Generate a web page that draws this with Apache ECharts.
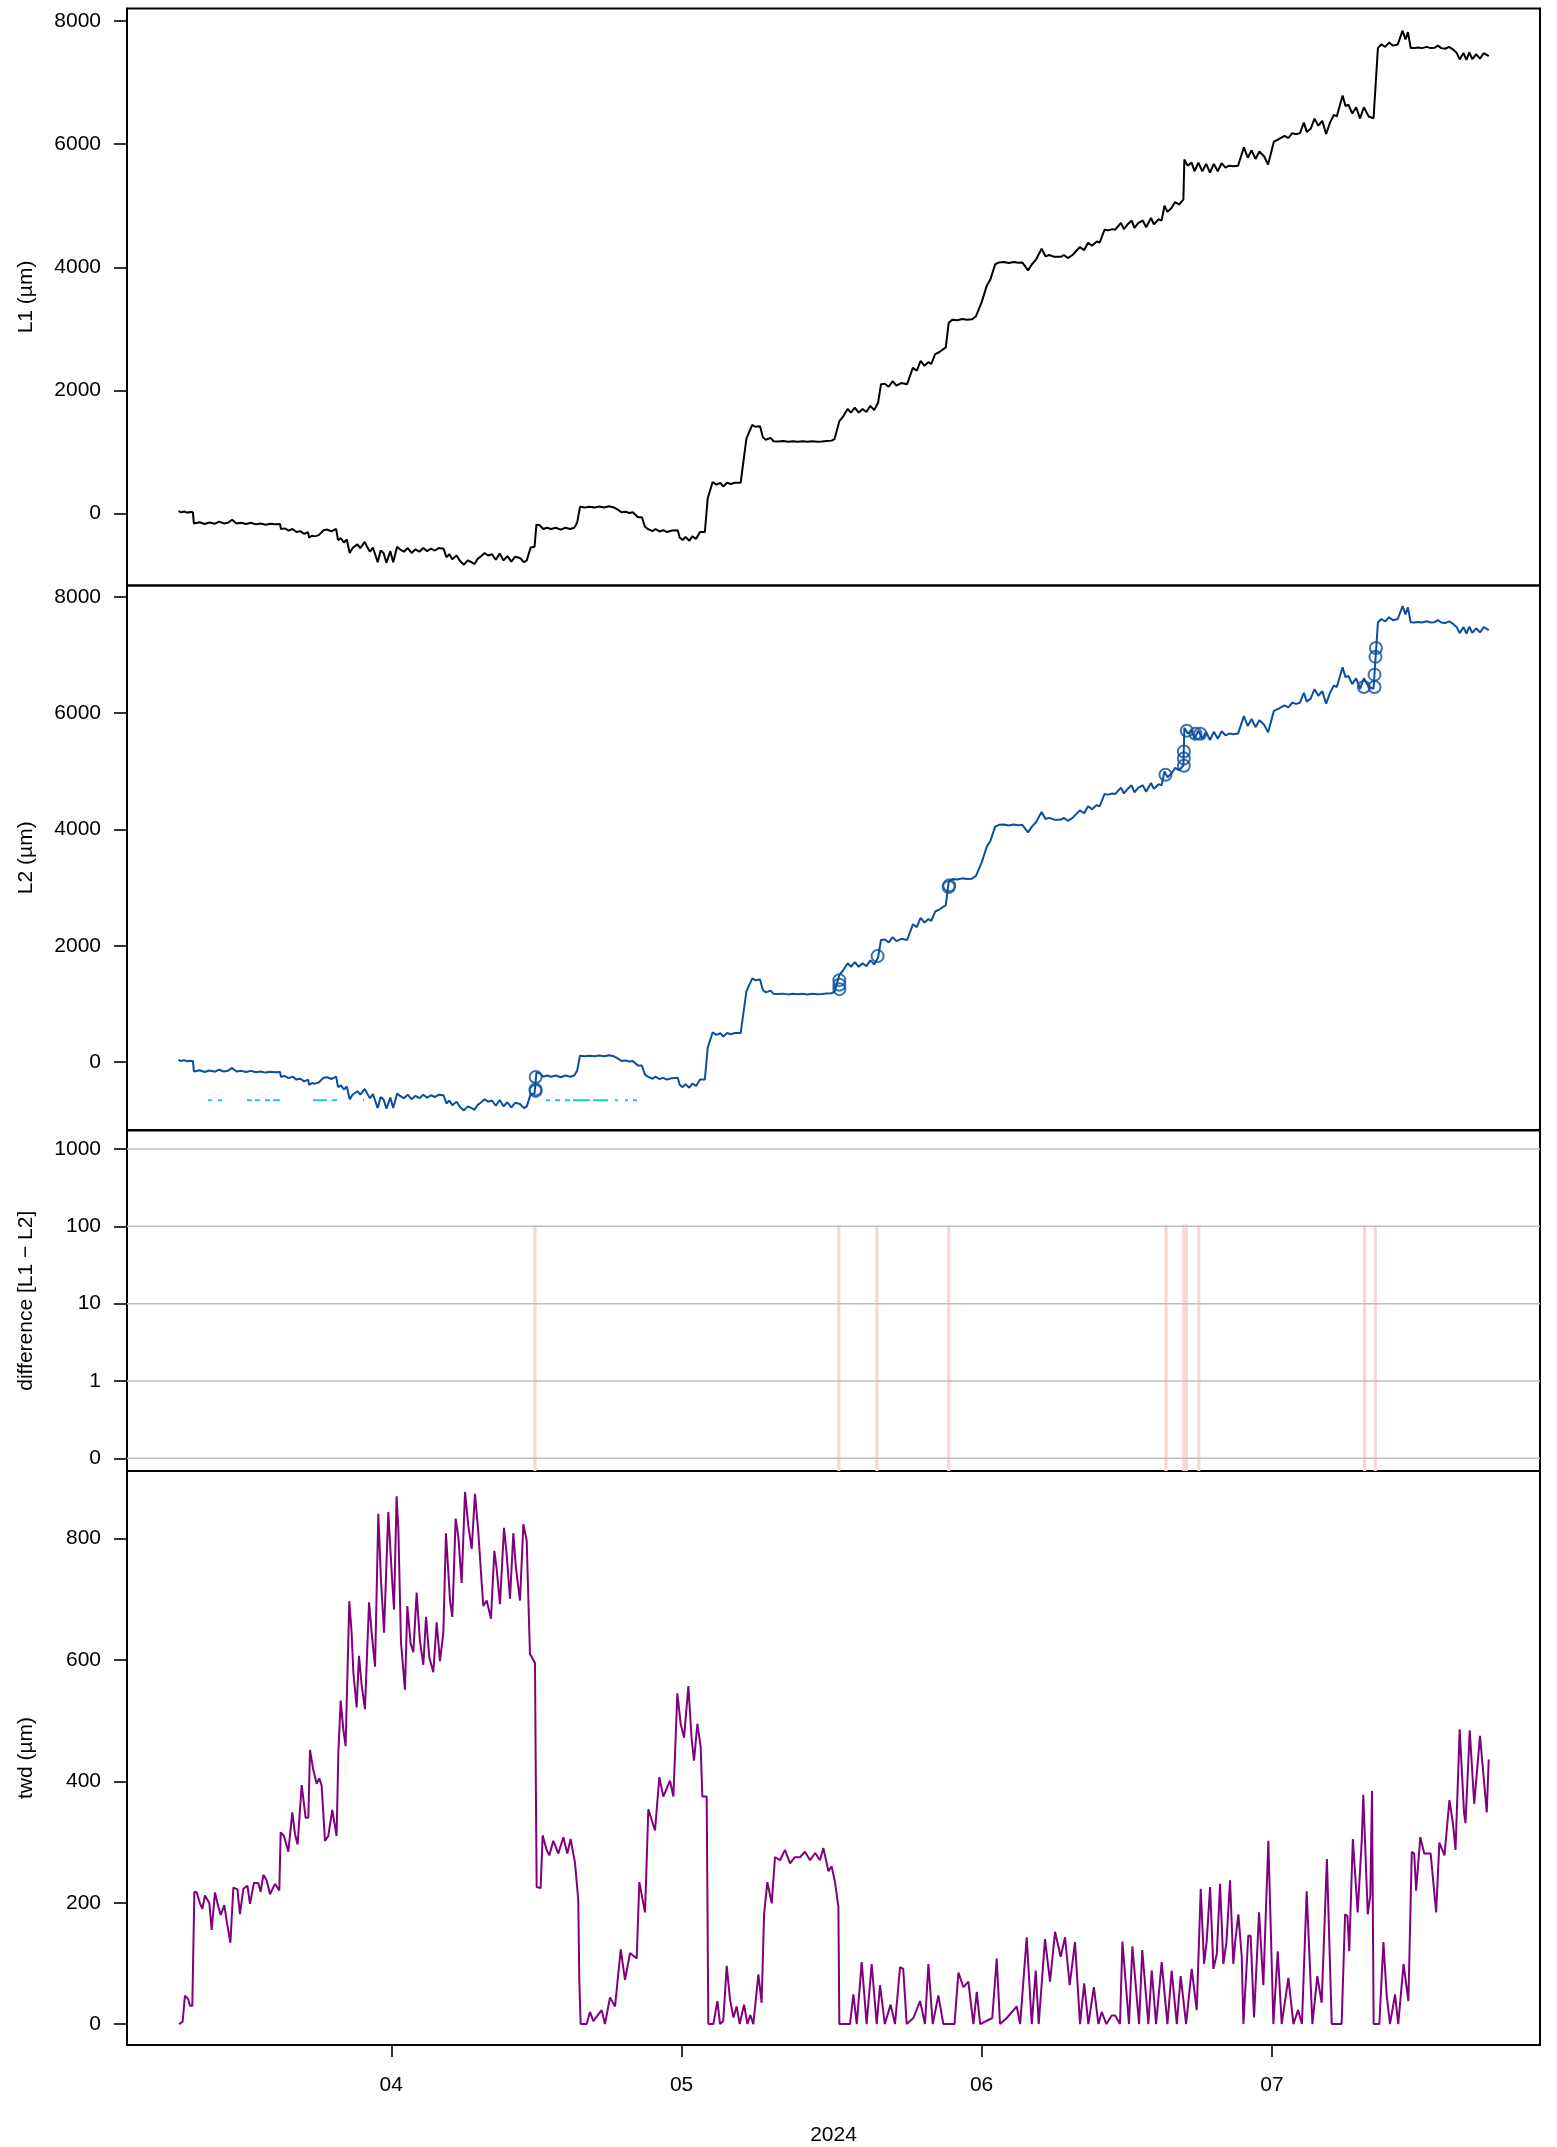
<!DOCTYPE html>
<html>
<head>
<meta charset="utf-8">
<script src="https://cdn.jsdelivr.net/npm/echarts@6/dist/echarts.min.js"></script>
<style>
html,body{margin:0;padding:0;background:#fff;}
#chart{width:1557px;height:2147px;}
</style>
</head>
<body>
<div id="chart"></div>
<script>
// ---------- DATA (time in days relative to 2024-04-01 00:00 UTC) ----------
const tL = [-22.0,-21.7,-21.4,-21.1,-20.8,-20.5,-20.4,-19.8,-19.3,-18.8,-18.2,-17.8,-17.3,-16.9,-16.45,-16.0,-15.5,-15.0,-14.5,-14.0,-13.5,-13.0,-12.5,-12.0,-11.5,-11.4,-11.0,-10.6,-10.2,-9.8,-9.4,-9.0,-8.6,-8.5,-8.2,-7.9,-7.5,-7.0,-6.6,-6.2,-5.7,-5.5,-5.2,-4.9,-4.6,-4.3,-4.0,-3.5,-3.2,-2.75,-2.5,-2.2,-1.9,-1.4,-1.1,-0.8,-0.5,-0.1,0.2,0.6,0.9,1.3,1.7,2.1,2.5,2.9,3.3,3.7,4.1,4.5,4.9,5.4,5.7,6.0,6.3,6.75,7.1,7.5,7.9,8.3,8.6,8.9,9.3,9.65,10.0,10.4,10.8,11.2,11.6,12.0,12.4,12.8,13.3,13.7,14.0,14.4,14.8,15.0,15.3,15.7,16.1,16.5,17.0,17.5,18.0,18.5,18.9,19.2,19.5,20.0,20.5,21.0,21.5,22.0,22.5,23.0,23.35,23.8,24.2,24.6,24.95,25.5,25.9,26.2,26.5,27.0,27.3,27.7,28.1,28.5,29.0,29.6,29.8,30.1,30.4,30.8,31.1,31.5,31.9,32.4,32.7,33.2,33.6,34.0,34.3,34.7,35.1,35.5,36.1,36.7,37.3,37.6,38.1,38.4,38.7,39.2,39.5,40.0,40.5,41.0,41.5,42.0,42.5,43.0,43.5,44.0,44.5,45.0,45.5,45.8,46.3,46.7,47.15,47.5,47.9,48.3,48.7,49.1,49.5,49.9,50.3,50.6,51.0,51.4,51.8,52.2,52.7,53.3,53.9,54.3,54.7,55.1,55.5,55.8,56.2,56.6,57.3,57.6,58.0,58.5,59.0,59.5,60.0,60.4,61.0,61.55,61.9,62.4,62.8,63.3,63.8,64.3,64.8,65.2,65.8,66.2,66.6,67.2,67.6,68.0,68.5,69.2,69.5,69.9,70.4,71.15,71.6,72.0,72.4,72.9,73.2,73.7,74.1,74.5,74.8,75.4,75.7,76.1,76.5,76.8,77.2,77.65,78.0,78.5,78.8,79.3,79.6,79.9,80.2,80.6,81.0,81.4,81.85,81.95,82.3,82.7,83.0,83.4,83.8,84.2,84.6,85.0,85.4,85.8,86.2,86.6,87.0,87.5,88.1,88.5,88.9,89.3,89.7,90.2,90.6,91.2,91.7,92.3,92.7,93.1,93.5,93.9,94.3,94.6,95.0,95.4,95.8,96.2,96.6,97.0,97.4,97.7,98.3,98.6,98.9,99.3,99.7,100.1,100.5,101.0,101.5,101.95,102.3,102.7,103.1,103.5,104.0,104.5,104.8,105.05,105.34,105.7,106.1,106.5,107.0,107.4,107.8,108.15,108.5,108.9,109.3,109.7,110.1,110.4,110.8,111.1,111.4,111.7,112.1,112.5,112.9,113.4];

const L1 = [40,20,35,15,25,20,-160,-140,-170,-145,-165,-130,-160,-150,-100,-160,-150,-170,-150,-175,-160,-180,-165,-175,-170,-250,-240,-275,-250,-300,-285,-330,-300,-390,-360,-370,-350,-270,-260,-290,-250,-430,-400,-470,-420,-640,-560,-500,-560,-460,-540,-620,-550,-790,-600,-640,-800,-610,-790,-540,-580,-620,-560,-640,-580,-620,-560,-610,-570,-600,-560,-570,-710,-660,-740,-680,-770,-830,-760,-790,-820,-740,-690,-640,-680,-660,-750,-650,-760,-690,-780,-700,-720,-790,-760,-550,-540,-180,-185,-250,-230,-250,-230,-260,-230,-250,-230,-150,110,100,110,100,115,100,120,100,70,20,30,10,20,-60,-60,-210,-250,-285,-250,-290,-270,-300,-275,-270,-390,-430,-380,-440,-370,-410,-300,-300,250,510,470,500,440,500,480,500,500,1220,1440,1410,1420,1240,1200,1230,1175,1170,1178,1165,1175,1168,1175,1165,1175,1168,1172,1180,1185,1210,1500,1580,1700,1640,1720,1640,1700,1650,1750,1680,1800,2100,2110,2060,2150,2080,2120,2100,2370,2320,2480,2400,2460,2430,2590,2620,2700,3100,3150,3140,3160,3150,3155,3200,3430,3710,3800,4050,4080,4085,4070,4085,4075,4080,3950,4050,4120,4300,4180,4200,4170,4170,4200,4150,4200,4330,4280,4400,4350,4420,4400,4610,4600,4620,4610,4720,4620,4700,4760,4640,4720,4760,4650,4800,4700,4780,4760,5000,4900,4960,5060,5020,5100,5750,5650,5700,5560,5700,5560,5680,5540,5680,5560,5690,5620,5650,5640,5650,5950,5780,5900,5760,5880,5800,5670,6040,6080,6135,6100,6180,6160,6180,6350,6200,6250,6414,6300,6380,6165,6350,6476,6450,6790,6620,6640,6500,6600,6420,6600,6450,6420,7560,7620,7580,7650,7600,7620,7843,7700,7820,7563,7560,7570,7560,7580,7560,7565,7600,7560,7550,7580,7540,7480,7377,7480,7370,7490,7380,7460,7390,7480,7430];

const L2 = [40,20,35,15,25,20,-160,-140,-170,-145,-165,-130,-160,-150,-100,-160,-150,-170,-150,-175,-160,-180,-165,-175,-170,-250,-240,-275,-250,-300,-285,-330,-300,-390,-360,-370,-350,-270,-260,-290,-250,-430,-400,-470,-420,-640,-560,-500,-560,-460,-540,-620,-550,-790,-600,-640,-800,-610,-790,-540,-580,-620,-560,-640,-580,-620,-560,-610,-570,-600,-560,-570,-710,-660,-740,-680,-770,-830,-760,-790,-820,-740,-690,-640,-680,-660,-750,-650,-760,-690,-780,-700,-720,-790,-760,-550,-540,-180,-185,-250,-230,-250,-230,-260,-230,-250,-230,-150,110,100,110,100,115,100,120,100,70,20,30,10,20,-60,-60,-210,-250,-285,-250,-290,-270,-300,-275,-270,-390,-430,-380,-440,-370,-410,-300,-300,250,510,470,500,440,500,480,500,500,1220,1440,1410,1420,1240,1200,1230,1175,1170,1178,1165,1175,1168,1175,1165,1175,1168,1172,1180,1185,1210,1500,1580,1700,1640,1720,1640,1700,1650,1750,1680,1800,2100,2110,2060,2150,2080,2120,2100,2370,2320,2480,2400,2460,2430,2590,2620,2700,3100,3150,3140,3160,3150,3155,3200,3430,3710,3800,4050,4080,4085,4070,4085,4075,4080,3950,4050,4120,4300,4180,4200,4170,4170,4200,4150,4200,4330,4280,4400,4350,4420,4400,4610,4600,4620,4610,4720,4620,4700,4760,4640,4720,4760,4650,4800,4700,4780,4760,5000,4900,4960,5060,5020,5100,5750,5650,5700,5560,5700,5560,5680,5540,5680,5560,5690,5620,5650,5640,5650,5950,5780,5900,5760,5880,5800,5670,6040,6080,6135,6100,6180,6160,6180,6350,6200,6250,6414,6300,6380,6165,6350,6476,6450,6790,6620,6640,6500,6600,6420,6600,6450,6420,7560,7620,7580,7650,7600,7620,7843,7700,7820,7563,7560,7570,7560,7580,7560,7565,7600,7560,7550,7580,7540,7480,7377,7480,7370,7490,7380,7460,7390,7480,7430];

// corrected jump points on L2 (open circles)
const jumpT  = [14.92,14.9,14.92,46.3,46.3,46.3,50.25,57.6,57.65,80.0,81.9,81.9,81.9,82.2,83.1,83.6,100.5,101.6,101.6,101.7,101.75];
const jumpL2 = [-255,-470,-495,1410,1330,1255,1823,3010,3040,4943,5342,5220,5097,5698,5648,5648,6450,6450,6663,6969,7122];

// flagged segments shown in panel 2 (start/end days)
const flagStart = [-18.94,-17.91,-14.91,-14.09,-13.05,-12.23,-8.09,-6.13,-2.93,15.99,16.92,17.95,18.78,20.84,23.11,24.15,24.97];
const flagEnd   = [-18.53,-17.50,-14.40,-13.57,-12.54,-11.50,-6.64,-5.61,-2.82,16.40,17.44,18.47,20.54,22.39,23.42,24.46,25.39];
const flagLevel = -654;

// difference L1 - L2 at jump corrections
const diffT   = [14.85,46.24,50.17,57.6,80.06,81.9,82.15,83.44,100.57,101.68];
const diffVal = [104,104,104,104,104,106,106,104,104,104];

// tree water deficit
const tTwd = [-21.94,-21.56,-21.32,-20.98,-20.8,-20.56,-20.35,-20.11,-19.77,-19.53,-19.25,-19.08,-18.8,-18.56,-18.22,-17.87,-17.63,-17.25,-17.01,-16.63,-16.32,-15.9,-15.64,-15.29,-14.87,-14.6,-14.19,-13.74,-13.5,-13.22,-12.88,-12.53,-12.02,-11.57,-11.43,-11.09,-10.64,-10.23,-9.95,-9.68,-9.26,-8.85,-8.57,-8.4,-8.06,-7.71,-7.44,-7.2,-6.85,-6.51,-6.1,-5.65,-5.47,-5.23,-4.96,-4.72,-4.34,-4.1,-3.92,-3.58,-3.34,-3.07,-2.72,-2.3,-2.03,-1.68,-1.34,-1.07,-0.75,-0.31,0.04,0.28,0.55,0.73,1.0,1.41,1.66,2.0,2.28,2.62,2.96,3.31,3.59,3.93,4.34,4.69,5.03,5.38,5.65,6.07,6.31,6.65,6.93,7.27,7.62,7.96,8.31,8.65,9.0,9.34,9.51,9.86,10.3,10.65,10.89,11.23,11.65,11.92,12.27,12.61,12.89,13.3,13.65,13.99,14.33,14.85,14.92,15.02,15.43,15.64,16.05,16.33,16.74,17.26,17.78,18.19,18.53,18.98,19.32,19.43,19.57,20.19,20.53,20.88,21.3,21.74,22.08,22.6,23.12,23.71,24.15,24.67,25.36,25.63,26.22,26.56,27.25,27.7,28.11,28.8,29.15,29.56,29.9,30.25,30.7,31.04,31.28,31.63,31.97,32.14,32.59,32.76,33.28,33.7,33.97,34.3,34.66,35.0,35.35,35.69,36.0,36.45,36.8,37.1,37.41,37.93,38.27,38.52,38.86,39.31,39.65,40.17,40.68,41.2,41.7,42.23,42.75,43.27,43.8,44.3,44.65,45.17,45.5,45.85,46.2,46.3,47.4,47.75,48.1,48.61,49.12,49.64,50.16,50.5,51.0,51.6,52.05,52.57,52.9,53.26,53.95,54.64,55.15,55.5,55.95,56.53,57.05,58.2,58.6,59.12,59.63,60.15,60.5,60.85,62.1,62.56,62.9,63.6,64.63,64.98,65.66,66.18,66.59,66.9,67.55,68.07,68.59,69.17,69.62,70.1,70.65,71.17,71.6,72.03,72.6,73.07,73.41,73.9,74.44,74.8,75.3,75.55,76.23,76.58,77.27,77.6,78.23,78.58,79.03,79.61,80.2,80.64,81.17,81.57,82.13,82.71,83.23,83.64,83.99,84.26,84.61,84.95,85.3,85.64,85.98,86.3,86.67,87.01,87.2,87.53,87.88,88.05,88.56,88.8,89.15,89.67,90.11,90.63,91.15,91.6,92.01,92.7,93.22,93.7,94.1,94.59,95.18,95.69,96.14,96.68,97.18,98.2,98.56,98.8,98.99,99.36,99.86,100.28,100.44,100.9,101.17,101.34,101.51,102.1,102.52,102.86,103.2,103.72,104.05,104.6,105.1,105.45,105.7,105.9,106.33,106.74,107.4,107.97,108.3,108.83,109.34,109.7,109.97,110.4,110.85,111.0,111.44,111.9,112.5,113.2,113.4];

const twd = [0,4,47,41,30,30,218,217,199,190,212,214,199,155,217,193,180,196,170,134,225,222,181,223,228,198,233,232,218,246,237,214,231,220,316,310,284,349,313,296,394,340,340,452,419,396,405,393,302,310,353,310,448,533,486,458,697,645,580,522,607,560,519,695,645,589,841,733,645,844,745,683,870,815,630,551,689,627,613,711,631,592,671,604,580,662,598,645,809,698,671,833,803,727,877,821,783,874,809,727,689,698,668,780,750,692,818,774,701,809,750,698,824,797,610,595,434,226,224,311,287,278,302,281,308,281,305,266,205,70,0,0,20,5,14,23,0,44,29,123,73,117,108,234,184,354,319,407,375,401,375,545,495,472,557,469,434,495,457,375,375,0,0,38,0,5,96,41,11,29,0,32,0,15,0,82,35,181,234,199,275,270,287,265,275,275,284,270,282,270,290,252,260,234,193,0,0,49,0,102,0,99,0,64,0,32,0,94,91,0,10,38,0,99,0,47,0,0,85,61,70,0,53,0,10,108,0,10,29,0,143,0,88,0,140,70,152,111,143,64,135,0,67,0,61,0,20,0,14,14,0,136,0,128,0,122,0,88,0,102,0,88,0,79,0,91,23,223,99,137,226,91,115,231,99,135,237,99,135,181,111,0,146,145,11,184,64,302,0,120,0,76,0,23,0,219,0,79,35,272,0,0,181,178,120,305,184,302,378,181,213,384,0,0,135,47,0,49,0,99,38,284,281,220,308,281,281,184,299,278,369,331,287,486,349,331,484,363,475,349,436];

// axes
const monthTicks  = ['2024-04-01','2024-05-01','2024-06-01','2024-07-01'];
const monthLabels = ['04','05','06','07'];
const yearLabel = '2024';
const lTicks    = [0,2000,4000,6000,8000];
const diffTicks = [0,1,10,100,1000];
const diffTickLabels = ['0','1','10','100','1000'];
const twdTicks  = [0,200,400,600,800];

// ---------- CHART ----------
const DAY = 86400000;
const BASE = Date.UTC(2024,3,1);
const ms = d => BASE + d*DAY;
const lg = v => v <= 0 ? -1 : Math.log10(v);
const X_MIN = ms(-27.31), X_MAX = ms(118.70);
const monthMs = monthTicks.map(s => Date.parse(s + 'T00:00:00Z'));

const FONT = 'Liberation Sans, Arial, Helvetica, sans-serif';
const LEFT = 127, WIDTH = 1413;
const grids = [
  {top: 8.4, height: 577.1},
  {top: 585.5, height: 544.5},
  {top: 1130.5, height: 340.5},
  {top: 1471, height: 576.2}
].map(g => ({left: LEFT, width: WIDTH, top: g.top, height: g.height, show: true,
  borderColor: '#000', borderWidth: 2, backgroundColor: 'transparent', containLabel: false}));

const xAxes = grids.map((g, i) => ({
  type: 'value', gridIndex: i, min: X_MIN, max: X_MAX, position: 'bottom',
  axisLine: {show: false, onZero: false},
  splitLine: {show: false},
  axisTick: {show: i === 3, customValues: monthMs, length: 12, lineStyle: {color: '#000', width: 1.6}},
  axisLabel: {show: i === 3, customValues: monthMs, margin: 30, fontSize: 21, color: '#000', fontFamily: FONT,
    formatter: v => { const k = monthMs.indexOf(v); return k >= 0 ? monthLabels[k] : ''; }},
  name: i === 3 ? yearLabel : '', nameLocation: 'middle', nameGap: 80,
  nameTextStyle: {fontSize: 21, color: '#000', fontFamily: FONT}
}));

function yAx(i, min, max, ticks, name, fmt) {
  return {
    type: 'value', gridIndex: i, min: min, max: max, position: 'left',
    axisLine: {show: false, onZero: false},
    splitLine: {show: false},
    axisTick: {show: true, customValues: ticks, length: 13, lineStyle: {color: '#000', width: 1.6}},
    axisLabel: {show: true, customValues: ticks, margin: 26, fontSize: 21, color: '#000', fontFamily: FONT,
      formatter: fmt || (v => String(v))},
    name: name, nameLocation: 'middle', nameGap: 90, nameRotate: 90,
    nameTextStyle: {fontSize: 21, color: '#000', fontFamily: FONT}
  };
}
const diffTickVals = diffTicks.map(lg);
const yAxes = [
  yAx(0, -1168, 8205, lTicks, 'L1 (µm)'),
  yAx(1, -1167, 8196, lTicks, 'L2 (µm)'),
  yAx(2, -1.164, 3.24, diffTickVals, 'difference [L1 \u2212 L2]',
      v => { let k = -1; diffTickVals.forEach((t, j) => { if (Math.abs(t - v) < 1e-6) k = j; }); return k >= 0 ? diffTickLabels[k] : ''; }),
  yAx(3, -34.5, 911.5, twdTicks, 'twd (µm)')
];

const flagData = [];
flagStart.forEach((s, i) => { flagData.push([ms(s), flagLevel], [ms(flagEnd[i]), flagLevel], [ms(flagEnd[i]), null]); });
const gridLineData = [];
diffTickVals.forEach(v => { gridLineData.push([X_MIN, v], [X_MAX, v], [X_MAX, null]); });

const option = {
  backgroundColor: '#fff',
  animation: false,
  grid: grids,
  xAxis: xAxes,
  yAxis: yAxes,
  series: [
    {type: 'line', xAxisIndex: 0, yAxisIndex: 0, data: tL.map((d, i) => [ms(d), L1[i]]),
     showSymbol: false, lineStyle: {color: '#000', width: 2}, itemStyle: {color: '#000'}, z: 3},
    {type: 'line', xAxisIndex: 1, yAxisIndex: 1, data: flagData, connectNulls: false,
     showSymbol: false, lineStyle: {color: '#1ec8d0', width: 2}, z: 2},
    {type: 'line', xAxisIndex: 1, yAxisIndex: 1, data: tL.map((d, i) => [ms(d), L2[i]]),
     showSymbol: false, lineStyle: {color: '#0b4f9e', width: 2}, itemStyle: {color: '#0b4f9e'}, z: 3},
    {type: 'scatter', xAxisIndex: 1, yAxisIndex: 1, data: jumpT.map((d, i) => [ms(d), jumpL2[i]]),
     symbol: 'circle', symbolSize: 12,
     itemStyle: {color: 'rgba(0,0,0,0)', borderColor: '#0b4f9e', borderWidth: 2}, z: 4},
    {type: 'custom', xAxisIndex: 2, yAxisIndex: 2, data: diffT.map((d, i) => [ms(d), lg(diffVal[i])]),
     z: 1, clip: true,
     renderItem: (params, api) => {
       const top = api.coord([api.value(0), api.value(1)]);
       const bottomY = params.coordSys.y + params.coordSys.height;
       return {type: 'line', shape: {x1: top[0], y1: top[1], x2: top[0], y2: bottomY},
               style: {stroke: '#f9d8d4', lineWidth: 3.2}};
     }},
    {type: 'line', xAxisIndex: 2, yAxisIndex: 2, data: gridLineData, connectNulls: false,
     showSymbol: false, lineStyle: {color: '#bebebe', width: 1.5}, z: 3},
    {type: 'line', xAxisIndex: 3, yAxisIndex: 3, data: tTwd.map((d, i) => [ms(d), twd[i]]),
     showSymbol: false, lineStyle: {color: '#800080', width: 2}, itemStyle: {color: '#800080'}, z: 3}
  ]
};
const chart = echarts.init(document.getElementById('chart'), null, {renderer: 'canvas'});
chart.setOption(option);
</script>
</body>
</html>
